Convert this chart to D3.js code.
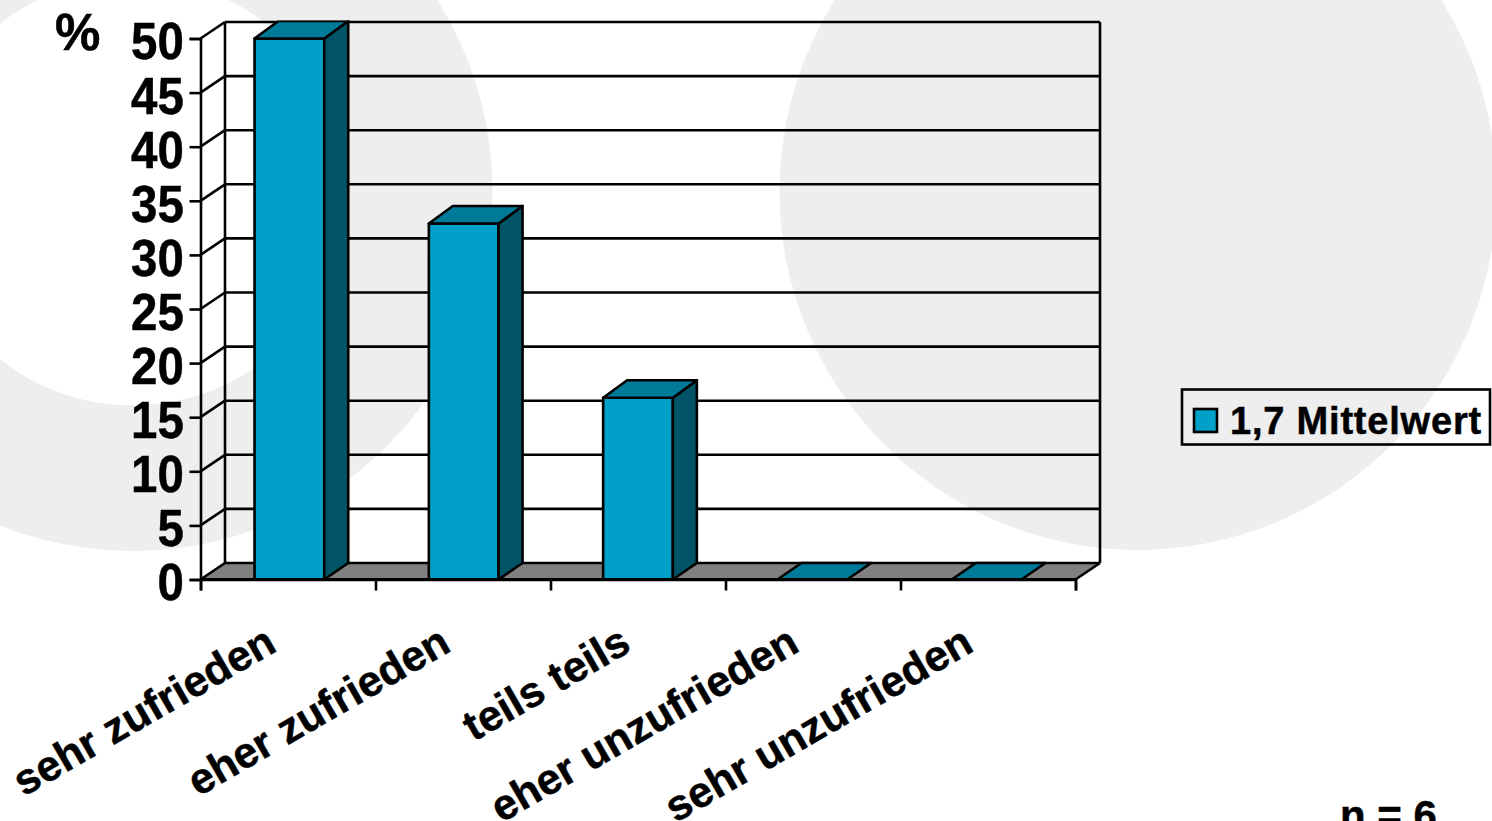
<!DOCTYPE html>
<html>
<head>
<meta charset="utf-8">
<script src="https://cdn.jsdelivr.net/npm/d3@7"></script>
<style>
html,body{margin:0;padding:0;background:#fff;overflow:hidden}
text{font-family:"Liberation Sans",sans-serif;font-weight:bold;fill:#000;stroke:#000;stroke-width:0.5px}
</style>
</head>
<body>
<div class="canvas"></div>
<script>
// data
var categories = ['sehr zufrieden','eher zufrieden','teils teils','eher unzufrieden','sehr unzufrieden'];
var values = [50,32.9,16.8,0,0];
var yTicks = [0,5,10,15,20,25,30,35,40,45,50];
var seriesName = '1,7 Mittelwert';
var unitLabel = '%';
var nLabel = 'n = 6';

var width = 1492, height = 821;

var svg = d3.select('.canvas')
    .append('svg')
    .attr('width',width)
    .attr('height',height)
    .style('display','block');

// background shapes
var bg = svg.append('g').attr('fill','#eeeeee');
bg.append('path')
    .attr('transform','translate(133,191.5)')
    .attr('d',d3.arc()({innerRadius:214,outerRadius:359.5,startAngle:0,endAngle:2*Math.PI}));
bg.append('circle').attr('cx',1138).attr('cy',191.5).attr('r',358.5);

var x = d3.scaleBand().domain(categories).range([200.5,1075.5]).paddingInner(0.6).paddingOuter(0.31);
var xEdges = d3.scaleLinear().domain([0,5]).range([200.5,1075.5]);
var y = d3.scaleLinear().domain([0,50]).range([579.5,38.5]);

// depth of wall and of the bars
var wallDx = 24.5, wallDy = -16.5, barDx = 24, barDy = -17.5;

var line = 2.6;
var poly = function(pts){ return pts.map(function(p){return p.join(',')}).join(' ') };

// bars may not go above the top of the back wall
svg.append('clipPath').attr('id','plotclip').append('rect')
    .attr('x',0).attr('y',y(50)+wallDy-1.5).attr('width',width).attr('height',height);

// floor
svg.append('polygon')
    .attr('points',poly([[xEdges(0),y(0)],[xEdges(0)+wallDx,y(0)+wallDy],[xEdges(5)+wallDx,y(0)+wallDy],[xEdges(5),y(0)]]))
    .attr('fill','#808080');

// gridlines on back wall + side wall
var grid = svg.append('g').attr('stroke','#000').attr('stroke-width',line).attr('fill','none');
grid.selectAll('.back').data(yTicks).enter().append('line')
    .attr('x1',xEdges(0)+wallDx).attr('x2',xEdges(5)+wallDx)
    .attr('y1',function(d){return y(d)+wallDy}).attr('y2',function(d){return y(d)+wallDy});
grid.selectAll('.side').data(yTicks).enter().append('line')
    .attr('x1',xEdges(0)).attr('x2',xEdges(0)+wallDx)
    .attr('y1',function(d){return y(d)}).attr('y2',function(d){return y(d)+wallDy});
grid.append('line').attr('x1',xEdges(0)+wallDx).attr('x2',xEdges(0)+wallDx).attr('y1',y(50)+wallDy).attr('y2',y(0)+wallDy);
grid.append('line').attr('x1',xEdges(5)+wallDx).attr('x2',xEdges(5)+wallDx).attr('y1',y(50)+wallDy).attr('y2',y(0)+wallDy);
grid.append('line').attr('x1',xEdges(5)).attr('x2',xEdges(5)+wallDx).attr('y1',y(0)).attr('y2',y(0)+wallDy);

// axes
var yAxis = svg.append('g')
    .attr('transform','translate('+xEdges(0)+',0)')
    .call(d3.axisLeft(y).tickValues(yTicks).tickSize(11).tickPadding(7));
var xAxis = svg.append('g')
    .attr('transform','translate(0,'+y(0)+')')
    .call(d3.axisBottom(xEdges).tickValues(d3.range(6)).tickSize(11).tickFormat(''));
yAxis.selectAll('path,line').attr('stroke','#000').attr('stroke-width',line);
xAxis.selectAll('path,line').attr('stroke','#000').attr('stroke-width',line);
yAxis.selectAll('.tick text')
    .attr('font-family','"Liberation Sans",sans-serif')
    .attr('font-size',51).attr('dy','0.4em')
    .attr('transform','scale(0.93,1)');

// bars
var bars = svg.selectAll('.bar').data(categories).enter().append('g')
    .attr('class','bar')
    .attr('clip-path','url(#plotclip)')
    .attr('stroke','#000').attr('stroke-width',line).attr('stroke-linejoin','round');
bars.each(function(c,i){
    var g = d3.select(this),
        x0 = x(c), x1 = x0+x.bandwidth(),
        top = y(values[i]), bot = y(0);
    if(values[i]>0){
        g.append('rect').attr('x',x0).attr('y',top).attr('width',x.bandwidth()).attr('height',bot-top).attr('fill','#00a0c8');
        g.append('polygon').attr('points',poly([[x1,top],[x1+barDx,top+barDy],[x1+barDx,bot+wallDy],[x1,bot]])).attr('fill','#005466');
    }
    // empty bars lie flat on the floor, so they stop at the wall
    var dy = values[i]>0 ? barDy : wallDy;
    g.append('polygon').attr('points',poly([[x0,top],[x0+barDx,top+dy],[x1+barDx,top+dy],[x1,top]])).attr('fill','#007a99');
});

// baseline on top of the zero bars
svg.append('line').attr('x1',xEdges(0)).attr('x2',xEdges(5)).attr('y1',y(0)).attr('y2',y(0))
    .attr('stroke','#000').attr('stroke-width',line+0.4);

// category labels
svg.selectAll('.cat').data(categories).enter().append('text')
    .attr('class','cat')
    .attr('text-anchor','end')
    .attr('font-size',43)
    .attr('transform',function(d){
        var nudge = d=='teils teils' ? 6 : 0;
        return 'translate('+(x(d)+x.bandwidth()/2-11+nudge)+',650) rotate(-30)';
    })
    .text(function(d){return d});

// unit + n
svg.append('text').attr('x',55).attr('y',50).attr('font-size',51).text(unitLabel);
svg.append('text').attr('x',1340).attr('y',830).attr('font-size',42).text(nLabel);

// legend
var legend = svg.append('g');
legend.append('rect').attr('x',1182).attr('y',389.5).attr('width',308).attr('height',55)
    .attr('fill','none').attr('stroke','#000').attr('stroke-width',line);
legend.append('rect').attr('x',1194).attr('y',409).attr('width',23).attr('height',23)
    .attr('fill','#00a0c8').attr('stroke','#000').attr('stroke-width',line);
legend.append('text').attr('x',1230).attr('y',434).attr('font-size',38).attr('letter-spacing',0.8).text(seriesName);
</script>
</body>
</html>
